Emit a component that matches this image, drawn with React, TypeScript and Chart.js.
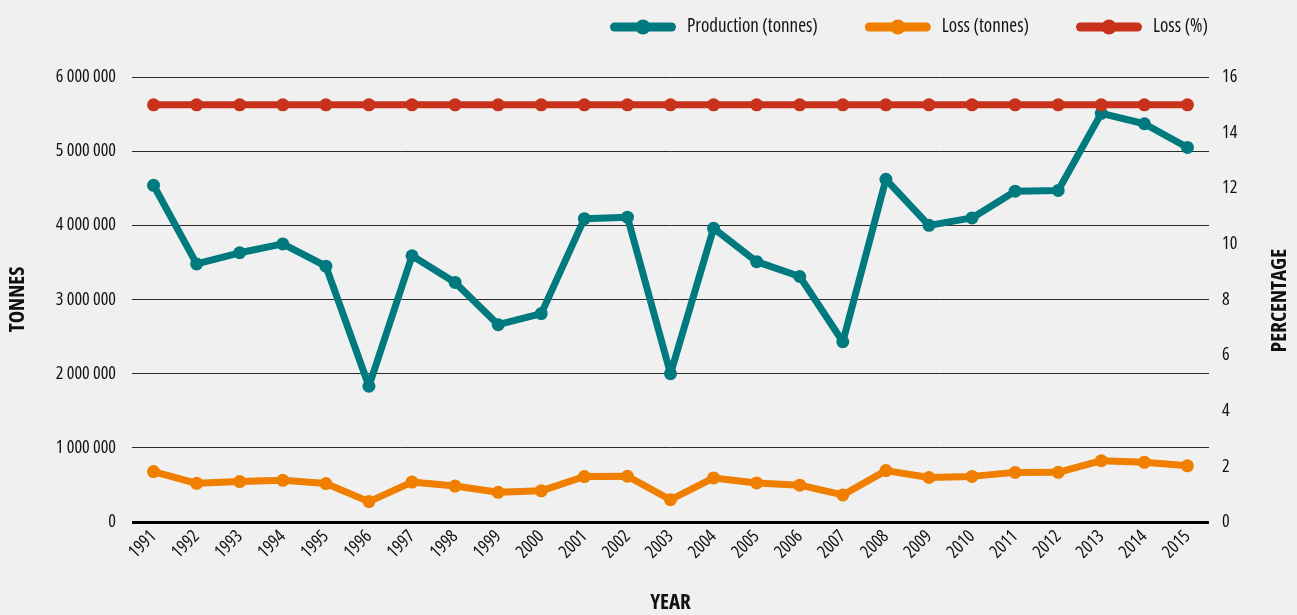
import React, { useEffect, useRef } from "react";
import { Chart, registerables } from "chart.js";

Chart.register(...registerables);

const years = [
  "1991", "1992", "1993", "1994", "1995", "1996", "1997", "1998", "1999", "2000",
  "2001", "2002", "2003", "2004", "2005", "2006", "2007", "2008", "2009", "2010",
  "2011", "2012", "2013", "2014", "2015",
];

const productionTonnes = [
  4540000, 3480000, 3630000, 3750000, 3450000, 1830000, 3590000, 3230000, 2660000, 2810000,
  4090000, 4110000, 2000000, 3960000, 3510000, 3310000, 2430000, 4620000, 4000000, 4100000,
  4460000, 4470000, 5510000, 5370000, 5050000,
];

const lossTonnes = [
  680000, 522000, 545000, 562000, 518000, 275000, 538000, 485000, 400000, 420000,
  613000, 617000, 300000, 594000, 527000, 497000, 365000, 693000, 600000, 615000,
  669000, 670000, 826000, 805000, 757000,
];

const lossPercent = [
  15, 15, 15, 15, 15, 15, 15, 15, 15, 15,
  15, 15, 15, 15, 15, 15, 15, 15, 15, 15,
  15, 15, 15, 15, 15,
];

const leftTicks = [0, 1000000, 2000000, 3000000, 4000000, 5000000, 6000000];

const FAMILY = "'Open Sans', 'Roboto Condensed', sans-serif";
const TEAL = "#007a7f";
const ORANGE = "#f07f00";
const RED = "#c8311a";
const TEXT = "#111111";

const fmt = (v: number) => String(Math.round(v)).replace(/\B(?=(\d{3})+(?!\d))/g, " ");

const customPlugin = {
  id: "customLegendAndTitle",
  afterDraw(chart: any) {
    const ctx = chart.ctx as CanvasRenderingContext2D;
    const area = chart.chartArea;
    ctx.save();
    // legend
    ctx.font = `condensed 19px ${FAMILY}`;
    const items = chart.data.datasets.map((ds: any) => ({
      label: ds.label as string,
      color: ds.borderColor as string,
      w: ctx.measureText(ds.label).width,
    }));
    const lineW = 66;
    const gapText = 11;
    const gapItem = 47;
    const total =
      items.reduce((s: number, it: any) => s + lineW + gapText + it.w, 0) +
      gapItem * (items.length - 1);
    let x = 1208 - total;
    const y = 27;
    for (const it of items) {
      ctx.strokeStyle = it.color;
      ctx.lineWidth = 9;
      ctx.lineCap = "round";
      ctx.beginPath();
      ctx.moveTo(x + 4.5, y);
      ctx.lineTo(x + lineW - 4.5, y);
      ctx.stroke();
      ctx.fillStyle = it.color;
      ctx.beginPath();
      ctx.arc(x + lineW / 2, y, 7.5, 0, Math.PI * 2);
      ctx.fill();
      ctx.fillStyle = TEXT;
      ctx.textAlign = "left";
      ctx.textBaseline = "middle";
      ctx.fillText(it.label, x + lineW + gapText, y);
      x += lineW + gapText + it.w + gapItem;
    }
    // right axis title (reads bottom to top)
    ctx.translate(1280, (area.top + area.bottom) / 2 + 1);
    ctx.rotate(-Math.PI / 2);
    ctx.font = `condensed bold 21px ${FAMILY}`;
    ctx.fillStyle = TEXT;
    ctx.textAlign = "center";
    ctx.textBaseline = "middle";
    ctx.fillText("PERCENTAGE", 0, 0);
    ctx.restore();
  },
};

const tickFont = { family: FAMILY, size: 18, weight: "condensed" } as any;
const titleFont = { family: FAMILY, size: 21, weight: "condensed bold", lineHeight: 1 } as any;

export default function App() {
  const canvasRef = useRef<HTMLCanvasElement | null>(null);

  useEffect(() => {
    if (!canvasRef.current) return;
    const common = {
      borderWidth: 7,
      pointRadius: 6.5,
      pointBorderWidth: 0,
      borderJoinStyle: "round",
      borderCapStyle: "round",
      tension: 0,
    };
    const chart = new Chart(canvasRef.current, {
      type: "line",
      data: {
        labels: years,
        datasets: [
          {
            ...common,
            label: "Production (tonnes)",
            data: productionTonnes,
            yAxisID: "y",
            borderColor: TEAL,
            backgroundColor: TEAL,
            pointBackgroundColor: TEAL,
            order: 1,
          },
          {
            ...common,
            label: "Loss (tonnes)",
            data: lossTonnes,
            yAxisID: "y",
            borderColor: ORANGE,
            backgroundColor: ORANGE,
            pointBackgroundColor: ORANGE,
            order: 2,
          },
          {
            ...common,
            label: "Loss (%)",
            data: lossPercent,
            yAxisID: "y1",
            borderColor: RED,
            backgroundColor: RED,
            pointBackgroundColor: RED,
            order: 0,
          },
        ],
      },
      options: {
        animation: false,
        responsive: true,
        maintainAspectRatio: false,
        layout: { padding: { top: 77, left: 0, right: 0, bottom: 0 } },
        plugins: {
          legend: { display: false },
          tooltip: { enabled: false },
        },
        scales: {
          x: {
            type: "category",
            offset: true,
            grid: { display: false, drawTicks: false },
            border: { display: false },
            ticks: {
              autoSkip: false,
              maxRotation: 45,
              minRotation: 45,
              padding: 4,
              color: TEXT,
              font: tickFont,
            },
            title: {
              display: true,
              text: "YEAR",
              color: TEXT,
              font: titleFont,
              padding: { top: 0, bottom: 1 },
            },
            afterFit: (s: any) => {
              s.height = 93;
            },
          },
          y: {
            type: "linear",
            position: "left",
            min: 0,
            max: 6000000,
            afterBuildTicks: (s: any) => {
              s.ticks = leftTicks.map((v) => ({ value: v }));
            },
            grid: {
              drawTicks: false,
              color: (c: any) => (c.tick && c.tick.value === 0 ? "#000000" : "#2a2a2a"),
              lineWidth: (c: any) => (c.tick && c.tick.value === 0 ? 3 : 1),
            },
            border: { display: false },
            ticks: {
              padding: 16,
              color: TEXT,
              font: tickFont,
              callback: (v: any) => fmt(Number(v)),
            },
            title: {
              display: true,
              text: "TONNES",
              color: TEXT,
              font: titleFont,
              padding: { top: 8, bottom: 0 },
            },
            afterFit: (s: any) => {
              s.width = 132;
            },
          },
          y1: {
            type: "linear",
            position: "right",
            min: 0,
            max: 16,
            ticks: {
              stepSize: 2,
              padding: 13,
              color: TEXT,
              font: tickFont,
            },
            grid: { display: false, drawTicks: false },
            border: { display: false },
            afterFit: (s: any) => {
              s.width = 88;
            },
          },
        },
      },
      plugins: [customPlugin],
    } as any);
    return () => chart.destroy();
  }, []);

  return (
    <div
      style={{
        position: "fixed",
        left: 0,
        top: 0,
        width: 1297,
        height: 615,
        background: "#f0f0f0",
      }}
    >
      <canvas ref={canvasRef} />
    </div>
  );
}
